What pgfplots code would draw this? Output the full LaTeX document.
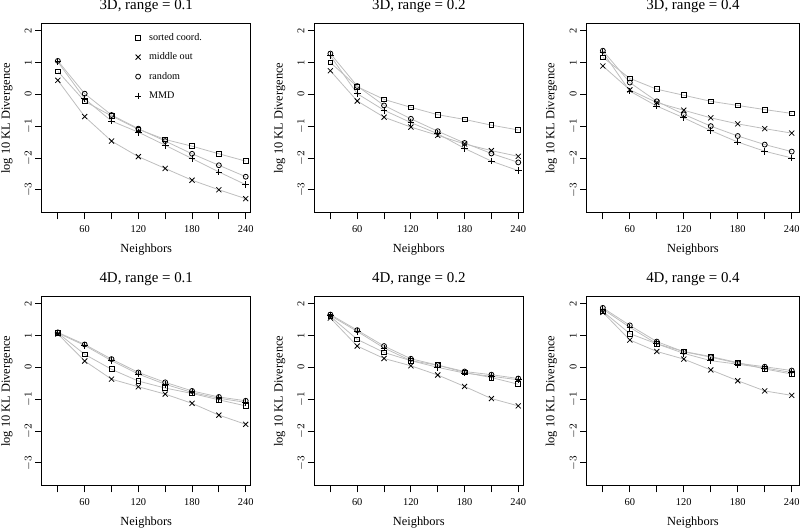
\documentclass[border=0pt]{standalone}
\usepackage{fontspec}
\setmainfont{Liberation Serif}
\usepackage{pgfplots}
\usepackage{pgfplotstable}
\pgfplotsset{compat=1.18}
\definecolor{lgray}{RGB}{190,190,190}

\pgfplotstableread{
x sc mo ra mmd
30 0.72 0.44 1.05 1.02
60 -0.22 -0.70 0.02 -0.14
90 -0.68 -1.47 -0.65 -0.84
120 -1.10 -1.96 -1.08 -1.19
150 -1.42 -2.33 -1.47 -1.60
180 -1.63 -2.70 -1.87 -2.02
210 -1.87 -3.00 -2.23 -2.44
240 -2.10 -3.28 -2.59 -2.84
}\tA
\pgfplotstableread{
x sc mo ra mmd
30 1.00 0.74 1.28 1.21
60 0.24 -0.21 0.26 0.02
90 -0.16 -0.72 -0.35 -0.50
120 -0.41 -1.03 -0.77 -0.89
150 -0.64 -1.29 -1.16 -1.24
180 -0.79 -1.56 -1.53 -1.70
210 -0.97 -1.77 -1.86 -2.10
240 -1.12 -1.95 -2.14 -2.40
}\tB
\pgfplotstableread{
x sc mo ra mmd
30 1.16 0.89 1.37 1.32
60 0.50 0.14 0.37 0.10
90 0.16 -0.26 -0.22 -0.37
120 -0.03 -0.50 -0.63 -0.74
150 -0.22 -0.74 -1.00 -1.14
180 -0.35 -0.93 -1.31 -1.50
210 -0.48 -1.08 -1.58 -1.79
240 -0.60 -1.22 -1.80 -2.00
}\tC
\pgfplotstableread{
x sc mo ra mmd
30 1.08 1.05 1.10 1.08
60 0.41 0.20 0.72 0.69
90 -0.06 -0.37 0.26 0.21
120 -0.43 -0.61 -0.16 -0.21
150 -0.65 -0.84 -0.47 -0.53
180 -0.82 -1.13 -0.74 -0.79
210 -1.02 -1.50 -0.93 -0.97
240 -1.21 -1.79 -1.05 -1.10
}\tD
\pgfplotstableread{
x sc mo ra mmd
30 1.60 1.55 1.66 1.63
60 0.88 0.67 1.17 1.13
90 0.47 0.28 0.67 0.61
120 0.21 0.05 0.27 0.21
150 0.07 -0.24 0.07 0.00
180 -0.16 -0.60 -0.13 -0.18
210 -0.32 -0.98 -0.23 -0.28
240 -0.53 -1.21 -0.35 -0.39
}\tE
\pgfplotstableread{
x sc mo ra mmd
30 1.76 1.73 1.87 1.83
60 1.06 0.86 1.32 1.26
90 0.74 0.50 0.81 0.74
120 0.50 0.26 0.49 0.44
150 0.34 -0.08 0.32 0.21
180 0.15 -0.42 0.13 0.10
210 -0.05 -0.74 0.02 -0.02
240 -0.21 -0.88 -0.10 -0.16
}\tF

\pgfplotsset{
  panel/.style={
    scale only axis, width=156.75pt, height=141.75pt,
    xmin=12, xmax=245.6, ymin=-3.72, ymax=2.22,
    xtick={30,60,...,240}, xticklabels={,60,,120,,180,,240},
    ytick={-3,-2,-1,0,1,2},
    tick align=outside, xtick pos=left, ytick pos=left,
    major tick length=5pt,
    axis line style={line width=0.8pt},
    every tick/.style={black, line width=0.6pt},
    /pgf/number format/assume math mode=true,
    yticklabels={$-3$,$-2$,$-1$,0,1,2},
    title style={at={(axis description cs:0.5,1.074)}, anchor=base, yshift=-6pt, inner sep=0pt, font=\fontsize{11.2}{13}\selectfont},
    xlabel=Neighbors, ylabel=log 10 KL Divergence,
    xlabel style={at={(axis description cs:0.5,-0.2116)}, anchor=base, inner sep=0pt, font=\fontsize{9.3}{11}\selectfont},
    ylabel style={at={(axis description cs:-0.152,0.5)}, anchor=base, inner sep=0pt, font=\fontsize{9.3}{11}\selectfont},
    ticklabel style={font=\fontsize{7.8}{9}\selectfont},
    xticklabel style={anchor=base, inner sep=0pt, yshift=-9.5pt},
    yticklabel style={xshift=-2.5pt, rotate=90, anchor=base, inner sep=0pt},
  },
  ln/.style={color=lgray, line width=0.6pt, no marks, forget plot},
  msc/.style={only marks, mark=square, mark size=1.8pt, black, mark options={line width=0.6pt}},
  mmo/.style={only marks, mark=x, mark size=2.7pt, black, mark options={line width=0.6pt}},
  mra/.style={only marks, mark=o, mark size=1.85pt, black, mark options={line width=0.6pt}},
  mmd/.style={only marks, mark=+, mark size=2.5pt, black, mark options={line width=0.6pt}},
}
\newcommand\panelplots[1]{%
  \addplot[ln] table[x=x,y=sc]{#1};
  \addplot[ln] table[x=x,y=mo]{#1};
  \addplot[ln] table[x=x,y=ra]{#1};
  \addplot[ln] table[x=x,y=mmd]{#1};
  \addplot[msc, forget plot] table[x=x,y=sc]{#1};
  \addplot[mmo, forget plot] table[x=x,y=mo]{#1};
  \addplot[mra, forget plot] table[x=x,y=ra]{#1};
  \addplot[mmd, forget plot] table[x=x,y=mmd]{#1};
}

\begin{document}
\begin{tikzpicture}
\useasboundingbox (0,0) rectangle (600pt,-396pt);

\begin{axis}[panel, at={(31.3pt,-159.5pt)}, anchor=south west, title={3D, range = 0.1},
  legend style={draw=none, fill=none, inner sep=0pt, at={(axis description cs:0.444,0.952)}, anchor=north west,
    font=\fontsize{7.6}{9}\selectfont, row sep=7.6pt,
    nodes={inner sep=0pt, text height=5.5pt, text depth=1.5pt}},
  legend cell align=left]
\panelplots{\tA}
\addlegendimage{msc}\addlegendentry{\hspace{5.7pt}sorted coord.}
\addlegendimage{mmo}\addlegendentry{\hspace{5.7pt}middle out}
\addlegendimage{mra}\addlegendentry{\hspace{5.7pt}random}
\addlegendimage{mmd}\addlegendentry{\hspace{5.7pt}MMD}
\end{axis}

\begin{axis}[panel, at={(235.7pt,-159.5pt)}, anchor=south west, title={3D, range = 0.2}]
\panelplots{\tB}
\end{axis}

\begin{axis}[panel, at={(440.0pt,-159.5pt)}, anchor=south west, width=159.45pt, xmax=248.4, title={3D, range = 0.4}]
\panelplots{\tC}
\end{axis}

\begin{axis}[panel, at={(31.3pt,-364.3pt)}, anchor=south west, title={4D, range = 0.1}]
\panelplots{\tD}
\end{axis}

\begin{axis}[panel, at={(235.7pt,-364.3pt)}, anchor=south west, title={4D, range = 0.2}]
\panelplots{\tE}
\end{axis}

\begin{axis}[panel, at={(440.0pt,-364.3pt)}, anchor=south west, width=159.45pt, xmax=248.4, title={4D, range = 0.4}]
\panelplots{\tF}
\end{axis}
\end{tikzpicture}
\end{document}
